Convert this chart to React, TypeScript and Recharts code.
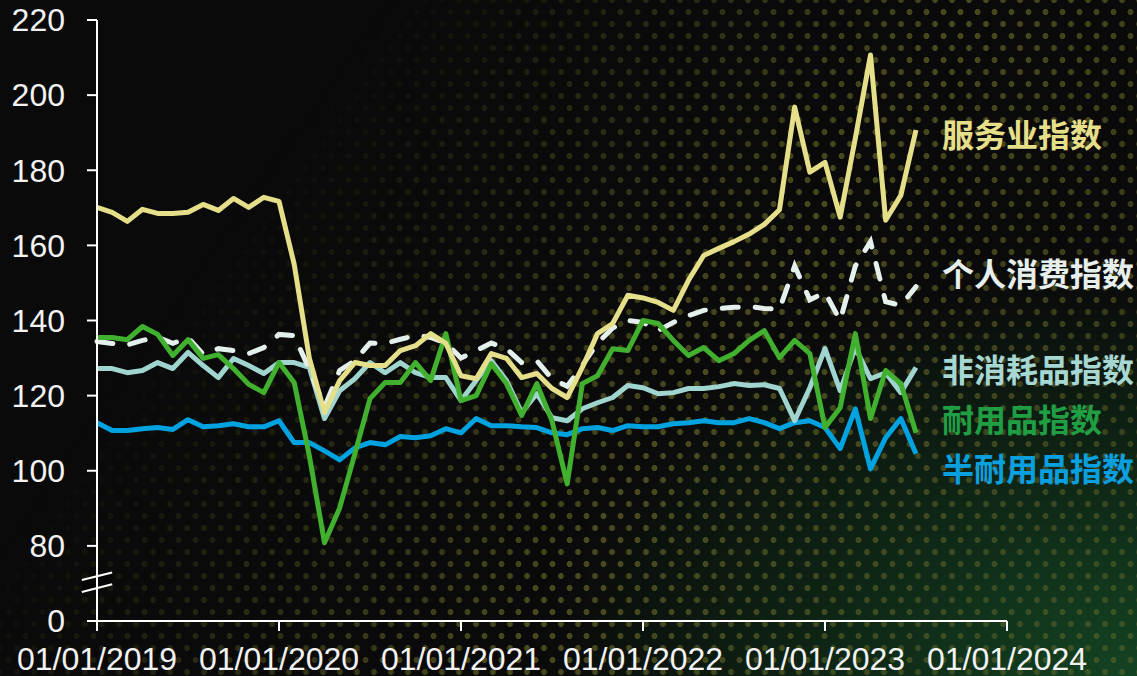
import { LineChart, Line, XAxis, YAxis, ReferenceLine } from "recharts";

// monthly index since 01/2019
const months = Array.from({ length: 55 }, (_, i) => i);

const xTicks = [0, 12, 24, 36, 48, 60];
const xTickLabels = ["01/01/2019", "01/01/2020", "01/01/2021", "01/01/2022", "01/01/2023", "01/01/2024"];
const yTicks = [60, 80, 100, 120, 140, 160, 180, 200, 220];

const services = [
    170.1, 168.8, 166.4, 169.6, 168.5, 168.5, 168.8, 170.9, 169.3, 172.5, 170.1, 172.8,
    171.7, 155, 130, 115.5, 124, 128.8, 128, 128, 132, 133.3, 136.5, 133.9,
    125.3, 124.5, 131.2, 129.9, 124.8, 125.9, 121.9, 119.5, 127.5, 136.5, 139.2, 146.7,
    146, 144.8, 142.7, 150.7, 157.3, 159.2, 161, 163, 165.6, 169.5, 196.8, 179.5,
    182.1, 167.5, 188.5, 210.7, 166.7, 173.3, 190.7,
];
const pce = [
    134.4, 133.9, 133.5, 134.7, 135.5, 133.9, 135.5, 131, 132.5, 132, 131.2, 132.8,
    136.3, 136, 127, 117, 126.7, 129.3, 134, 133.9, 135, 136, 135.5, 134,
    130, 132, 134, 132.5, 128.8, 129.3, 124.5, 122.5, 128, 134, 138, 140,
    139.5, 137.3, 139.5, 141.3, 142.7, 143.2, 143.5, 143.7, 143.2, 143, 154.5, 145.5,
    147.5, 140, 154.5, 161, 145, 144, 149,
];
const nonDurable = [
    127.2, 127.2, 126.1, 126.7, 128.8, 127.2, 131.5, 128, 124.8, 129.9, 128, 125.9,
    128.8, 128.8, 127.5, 113.9, 121.3, 124.5, 128.8, 126.1, 128.8, 126.1, 124.8, 124.8,
    118.7, 124, 129.3, 124, 115.5, 120.5, 114.1, 113.3, 116.5, 118.1, 119.5, 122.7,
    122.1, 120.5, 120.8, 121.9, 121.9, 122.4, 123.2, 122.7, 122.9, 121.9, 113.3, 122.1,
    132.5, 121.3, 132.8, 124.5, 126.1, 120.8, 127.5,
];
const durable = [
    135.5, 135.5, 134.9, 138.4, 136.3, 130.7, 134.9, 129.9, 130.9, 127.2, 123, 120.8,
    128.8, 123.5, 104, 80.8, 90.1, 104.5, 119.2, 123.5, 123.5, 128.8, 124, 136.5,
    118.7, 120, 128.5, 123.2, 114.7, 123.2, 113.3, 96.5, 123.2, 125.3, 132.5, 132,
    140, 139.2, 134.7, 130.7, 132.8, 129.3, 131.2, 134.7, 137.3, 130.1, 134.7, 131.2,
    111.5, 116.8, 136.5, 113.9, 126.7, 123.2, 110.1,
];
const semiDurable = [
    112.8, 110.7, 110.7, 111.2, 111.5, 111, 113.6, 111.7, 112, 112.5, 111.7, 111.7,
    113.3, 107.5, 107.5, 105.3, 102.9, 106.1, 107.5, 106.9, 109.1, 108.8, 109.3, 111.2,
    110.1, 113.9, 112, 112, 111.7, 111.5, 110.1, 109.6, 111.2, 111.5, 110.7, 112,
    111.7, 111.7, 112.5, 112.8, 113.3, 112.8, 112.8, 113.9, 112.8, 111.2, 112.8, 113.3,
    111.5, 105.9, 116.5, 100.5, 108.8, 113.9, 104.5,
];

const chartData = months.map((m, i) => ({
    m,
    services: services[i],
    pce: pce[i],
    nonDurable: nonDurable[i],
    durable: durable[i],
    semiDurable: semiDurable[i],
}));

const labels = [
    { text: "服务业指数", color: "#e6df8a", top: 117 },
    { text: "个人消费指数", color: "#e6efeb", top: 256 },
    { text: "非消耗品指数", color: "#a6d7d2", top: 352 },
    { text: "耐用品指数", color: "#1f9e44", top: 402 },
    { text: "半耐用品指数", color: "#0aa0e0", top: 451 },
];

const axisFont = "'Liberation Sans', Arial, sans-serif";

export default function App() {
    return (
        <div style={{ position: "absolute", left: 0, top: 0, width: 1137, height: 676, overflow: "hidden",
            background: "radial-gradient(ellipse 70% 80% at 100% 100%, rgba(22,82,40,0.8), rgba(10,10,10,0) 75%), #0a0a0a" }}>
            {/* halftone dots */}
            <div style={{
                position: "absolute", inset: 0,
                backgroundImage: "radial-gradient(circle, rgba(115,115,45,0.6) 0 2.7px, transparent 3.3px), radial-gradient(circle, rgba(115,115,45,0.6) 0 2.7px, transparent 3.3px)",
                backgroundSize: "17px 24px",
                backgroundPosition: "0 0, 8.5px 12px",
                WebkitMaskImage: "linear-gradient(125deg, transparent 24%, rgba(0,0,0,0.5) 42%, black 60%, rgba(0,0,0,0.7) 88%)",
                maskImage: "linear-gradient(125deg, transparent 24%, rgba(0,0,0,0.5) 42%, black 60%, rgba(0,0,0,0.7) 88%)",
            }} />
            <div style={{ position: "absolute", left: 0, top: 0 }}>
                <LineChart width={1137} height={676} data={chartData} margin={{ top: 20, right: 130, bottom: 0, left: 0 }}>
                    <XAxis
                        dataKey="m"
                        type="number"
                        domain={[0, 60]}
                        ticks={xTicks}
                        tickFormatter={(v) => xTickLabels[xTicks.indexOf(v)] ?? ""}
                        height={55}
                        tickSize={10}
                        tickMargin={16}
                        interval={0}
                        axisLine={{ stroke: "#fff", strokeWidth: 2 }}
                        tickLine={{ stroke: "#fff", strokeWidth: 2 }}
                        tick={{ fill: "#f2f2f2", fontSize: 32, fontFamily: axisFont }}
                    />
                    <YAxis
                        type="number"
                        domain={[60, 220]}
                        ticks={yTicks}
                        interval={0}
                        tickFormatter={(v) => (v === 60 ? "0" : String(v))}
                        width={97}
                        tickSize={10}
                        tickMargin={22}
                        axisLine={{ stroke: "#fff", strokeWidth: 2 }}
                        tickLine={{ stroke: "#fff", strokeWidth: 2 }}
                        tick={{ fill: "#f2f2f2", fontSize: 32, fontFamily: axisFont }}
                    />
                    {/* axis break mark */}
                    <ReferenceLine ifOverflow="visible" segment={[{ x: -1, y: 69.3 }, { x: 1, y: 71.4 }]} stroke="#050505" strokeWidth={9} />
                    <ReferenceLine ifOverflow="visible" segment={[{ x: -1, y: 70.9 }, { x: 1, y: 72.9 }]} stroke="#fff" strokeWidth={2} />
                    <ReferenceLine ifOverflow="visible" segment={[{ x: -1, y: 67.7 }, { x: 1, y: 69.8 }]} stroke="#fff" strokeWidth={2} />

                    <Line dataKey="semiDurable" stroke="#00a3e0" strokeWidth={5} dot={false} isAnimationActive={false} strokeLinejoin="round" />
                    <Line dataKey="nonDurable" stroke="#9fd4cf" strokeWidth={5} dot={false} isAnimationActive={false} strokeLinejoin="round" />
                    <Line dataKey="pce" stroke="#e4f0ec" strokeWidth={5} strokeDasharray="16 17" strokeLinecap="round" dot={false} isAnimationActive={false} />
                    <Line dataKey="durable" stroke="#40b02e" strokeWidth={5} dot={false} isAnimationActive={false} strokeLinejoin="round" />
                    <Line dataKey="services" stroke="#e6df8a" strokeWidth={5} dot={false} isAnimationActive={false} strokeLinejoin="round" />
                </LineChart>
            </div>
            {labels.map((l) => (
                <div key={l.text} style={{
                    position: "absolute", left: 942, top: l.top, color: l.color,
                    fontFamily: "'Noto Sans CJK SC', sans-serif", fontWeight: 700, fontSize: 32, lineHeight: "32px", whiteSpace: "nowrap",
                }}>{l.text}</div>
            ))}
        </div>
    );
}
